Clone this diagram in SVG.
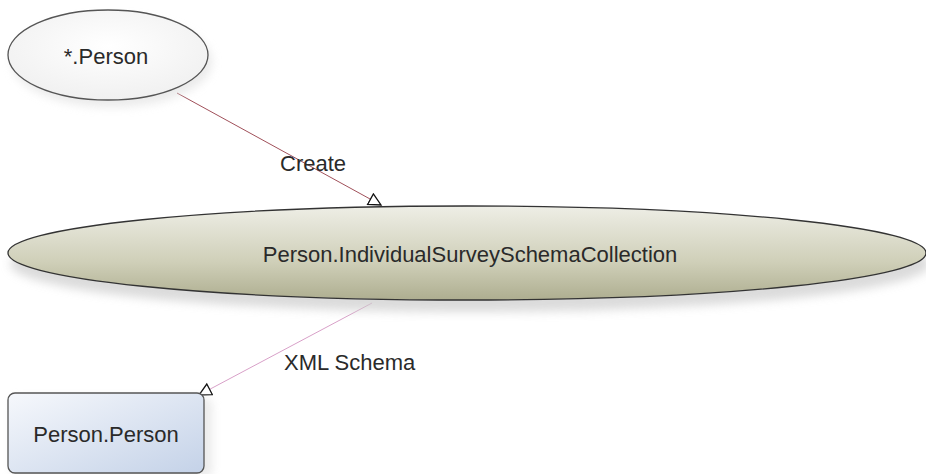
<svg xmlns="http://www.w3.org/2000/svg" width="926" height="474" viewBox="0 0 926 474">
<style>
text{font-family:"Liberation Sans",Arial,sans-serif;font-size:22px;fill:#2a2a2a}
</style>
<defs>
<radialGradient id="gW" cx="0.5" cy="0.4" r="0.7"><stop offset="0" stop-color="#ffffff"/><stop offset="1" stop-color="#eeeeee"/></radialGradient>
<linearGradient id="gOl" x1="0" y1="0" x2="0" y2="1"><stop offset="0" stop-color="#eeeee6"/><stop offset="0.6" stop-color="#cfcfb8"/><stop offset="1" stop-color="#aeae90"/></linearGradient>
<linearGradient id="gBl" x1="0" y1="0" x2="1" y2="1"><stop offset="0" stop-color="#f6f8fc"/><stop offset="1" stop-color="#c4d2e8"/></linearGradient>
<filter id="sh" x="-10%" y="-20%" width="130%" height="160%"><feGaussianBlur stdDeviation="5"/></filter>
<marker id="tri" markerWidth="16" markerHeight="16" refX="13" refY="7" orient="auto" markerUnits="userSpaceOnUse"><path d="M1,1 L13,7 L1,13 Z" fill="#fff" stroke="#111" stroke-width="1.3"/></marker>
</defs>
<rect width="926" height="474" fill="#fff"/>
<g id="connectors">
<line x1="177" y1="93" x2="381" y2="205" stroke="#a0505a" stroke-width="1" marker-end="url(#tri)"/>
<text x="280" y="171">Create</text>
<line x1="372" y1="303" x2="199" y2="395" stroke="#d8a0c8" stroke-width="1" marker-end="url(#tri)"/>
<text x="284" y="370">XML Schema</text>
</g>
<g id="n1">
<ellipse cx="112" cy="62" rx="100" ry="45" fill="#ddd" filter="url(#sh)" opacity="0.6"/>
<ellipse cx="108" cy="55" rx="100" ry="45" fill="url(#gW)" stroke="#555" stroke-width="1.3"/>
<text x="106" y="64" text-anchor="middle">*.Person</text>
</g>
<g id="n2">
<ellipse cx="470" cy="264" rx="460" ry="48" fill="#ccc" filter="url(#sh)" opacity="0.7"/>
<ellipse cx="467" cy="253" rx="459" ry="47" fill="url(#gOl)" stroke="#333" stroke-width="1.3"/>
<text x="470" y="262" text-anchor="middle">Person.IndividualSurveySchemaCollection</text>
</g>
<g id="n3">
<rect x="12" y="398" width="200" height="80" rx="7" fill="#ddd" filter="url(#sh)" opacity="0.6"/>
<rect x="8" y="393" width="196" height="80" rx="7" fill="url(#gBl)" stroke="#555" stroke-width="1.3"/>
<text x="106" y="442" text-anchor="middle">Person.Person</text>
</g>
</svg>
